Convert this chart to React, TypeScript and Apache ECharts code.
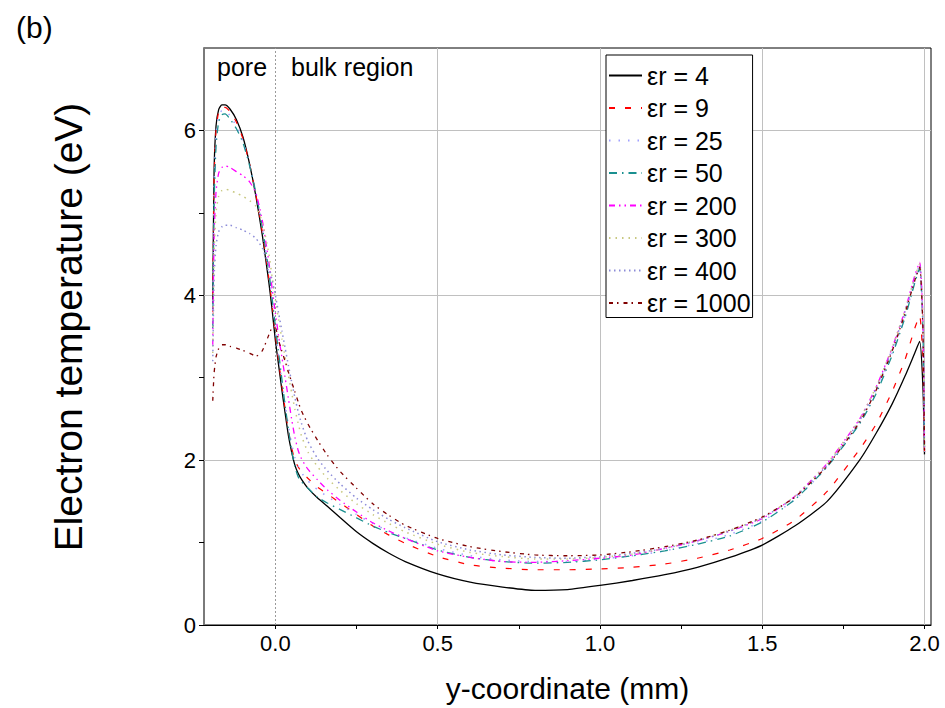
import React, { useEffect, useRef } from "react";
import * as echarts from "echarts";

const xValues = [
  -0.193, -0.189, -0.183, -0.175, -0.165, -0.155, -0.14, -0.12, -0.1, -0.08, -0.06, -0.04, -0.02, -0.01,
  0.0, 0.01, 0.02, 0.03, 0.04, 0.05, 0.06, 0.07, 0.08, 0.1, 0.13, 0.16, 0.2, 0.25, 0.3, 0.35, 0.4,
  0.5, 0.6, 0.7, 0.8, 0.9, 1.0, 1.1, 1.2, 1.3, 1.4, 1.5, 1.6, 1.7, 1.8, 1.85, 1.9, 1.94, 1.97, 1.985, 1.995, 2.0,
];

const seriesNames = ["εr = 4", "εr = 9", "εr = 25", "εr = 50", "εr = 200", "εr = 300", "εr = 400", "εr = 1000"];

const te4 = [
  3.9, 5.5, 6.05, 6.25, 6.31, 6.31, 6.26, 6.13, 5.92, 5.6, 5.2, 4.72, 4.15, 3.82,
  3.45, 3.15, 2.85, 2.57, 2.3, 2.1, 1.94, 1.84, 1.77, 1.66, 1.54, 1.44, 1.3, 1.13, 0.99, 0.87, 0.77,
  0.62, 0.52, 0.46, 0.42, 0.43, 0.48, 0.54, 0.61, 0.7, 0.82, 0.97, 1.2, 1.5, 2.0, 2.32, 2.68, 3.02, 3.3, 3.44, 2.9, 2.07,
];
const te9 = [
  3.8, 5.4, 6.0, 6.22, 6.28, 6.28, 6.23, 6.1, 5.9, 5.6, 5.22, 4.76, 4.2, 3.88,
  3.52, 3.2, 2.9, 2.62, 2.36, 2.15, 2.0, 1.92, 1.86, 1.78, 1.67, 1.59, 1.48, 1.34, 1.2, 1.09, 0.99,
  0.83, 0.73, 0.69, 0.67, 0.67, 0.68, 0.7, 0.74, 0.81, 0.91, 1.05, 1.27, 1.62, 2.13, 2.43, 2.83, 3.22, 3.6, 3.75, 3.2, 2.1,
];
const te25 = [
  3.7, 5.3, 5.95, 6.18, 6.24, 6.24, 6.18, 6.05, 5.87, 5.6, 5.24, 4.8, 4.25, 3.93,
  3.58, 3.26, 2.96, 2.68, 2.42, 2.2, 2.03, 1.93, 1.85, 1.75, 1.64, 1.56, 1.46, 1.34, 1.23, 1.14, 1.06,
  0.93, 0.84, 0.79, 0.77, 0.77, 0.8, 0.84, 0.9, 0.99, 1.1, 1.26, 1.52, 1.92, 2.45, 2.82, 3.3, 3.75, 4.17, 4.34, 3.6, 2.1,
];
const te50 = [
  3.6, 5.1, 5.8, 6.1, 6.19, 6.2, 6.14, 6.02, 5.85, 5.58, 5.24, 4.82, 4.28, 3.96,
  3.62, 3.3, 2.98, 2.66, 2.38, 2.12, 1.92, 1.8, 1.74, 1.66, 1.55, 1.48, 1.4, 1.3, 1.2, 1.12, 1.05,
  0.91, 0.82, 0.77, 0.75, 0.76, 0.79, 0.84, 0.9, 0.98, 1.08, 1.25, 1.52, 1.92, 2.44, 2.8, 3.27, 3.73, 4.15, 4.33, 3.6, 2.1,
];
const te200 = [
  3.4, 4.7, 5.25, 5.48, 5.55, 5.57, 5.55, 5.5, 5.45, 5.38, 5.24, 4.9, 4.4, 4.08,
  3.78, 3.5, 3.25, 3.0, 2.75, 2.5, 2.28, 2.12, 2.02, 1.89, 1.76, 1.64, 1.51, 1.37, 1.24, 1.14, 1.05,
  0.9, 0.82, 0.77, 0.76, 0.78, 0.81, 0.85, 0.93, 1.02, 1.14, 1.29, 1.56, 1.96, 2.5, 2.88, 3.36, 3.82, 4.24, 4.4, 3.7, 2.1,
];
const te300 = [
  3.3, 4.5, 5.0, 5.2, 5.27, 5.29, 5.27, 5.24, 5.2, 5.15, 5.08, 4.88, 4.5, 4.22,
  3.95, 3.7, 3.47, 3.25, 3.03, 2.82, 2.62, 2.45, 2.3, 2.1, 1.92, 1.78, 1.63, 1.47, 1.34, 1.23, 1.13,
  0.98, 0.88, 0.83, 0.8, 0.8, 0.82, 0.86, 0.93, 1.03, 1.15, 1.3, 1.56, 1.96, 2.5, 2.88, 3.36, 3.82, 4.22, 4.38, 3.7, 2.1,
];
const te400 = [
  3.2, 4.2, 4.6, 4.77, 4.83, 4.85, 4.85, 4.82, 4.79, 4.75, 4.69, 4.57, 4.35, 4.18,
  4.0, 3.78, 3.57, 3.36, 3.15, 2.95, 2.76, 2.59, 2.45, 2.23, 2.02, 1.87, 1.71, 1.54, 1.4, 1.28, 1.18,
  1.01, 0.91, 0.85, 0.82, 0.81, 0.83, 0.87, 0.93, 1.02, 1.14, 1.3, 1.55, 1.94, 2.48, 2.86, 3.34, 3.8, 4.2, 4.36, 3.7, 2.1,
];
const te1000 = [
  2.72, 3.05, 3.25, 3.35, 3.4, 3.4, 3.38, 3.36, 3.33, 3.3, 3.26, 3.33, 3.52, 3.6,
  3.6, 3.45, 3.32, 3.2, 3.07, 2.95, 2.83, 2.71, 2.6, 2.44, 2.24, 2.06, 1.86, 1.66, 1.47, 1.33, 1.21,
  1.05, 0.95, 0.89, 0.85, 0.84, 0.85, 0.89, 0.95, 1.03, 1.15, 1.31, 1.55, 1.93, 2.46, 2.84, 3.32, 3.78, 4.18, 4.34, 3.6, 2.1,
];

const xTickValues = [0, 0.25, 0.5, 0.75, 1, 1.25, 1.5, 1.75, 2];
const xLabelValues = [0, 0.5, 1, 1.5, 2];
const yTickValues = [0, 1, 2, 3, 4, 5, 6];
const yLabelValues = [0, 2, 4, 6];
const xGridValues = [0.5, 1, 1.5, 2];
const yGridValues = [2, 4, 6];

const FONT = "'Liberation Sans', Arial, Helvetica, sans-serif";

export default function App() {
  const ref = useRef<HTMLDivElement>(null);

  useEffect(() => {
    document.body.style.margin = "0";
    const chart = echarts.init(ref.current!, null, { renderer: "svg" });

    const allY = [te4, te9, te25, te50, te200, te300, te400, te1000];
    const colors = ["#000000", "#ff0000", "#a0a0ff", "#1a9090", "#ff00ff", "#c8c880", "#8c8cd8", "#800000"];
    const types: any[] = [
      "solid",
      [6, 10],
      [1.5, 8],
      [8, 5, 1.5, 5],
      [6, 4, 1.5, 4, 1.5, 4],
      [1.5, 5],
      [1.5, 3.5],
      [4, 4, 1.5, 5],
    ];
    const widths = [1.3, 1.2, 1.5, 1.3, 1.3, 1.5, 1.5, 1.3];

    const dataSeries = allY.map((ys, k) => ({
      name: seriesNames[k],
      type: "line",
      data: xValues.map((x, i) => [x, ys[i]]),
      showSymbol: false,
      symbol: "none",
      smooth: 0.2,
      z: 3,
      clip: true,
      lineStyle: { color: colors[k], type: types[k], width: widths[k] },
      itemStyle: { color: colors[k], opacity: 0 },
      emphasis: { disabled: true },
    }));

    const gridSeries = {
      name: "gridlines",
      type: "line",
      data: [],
      z: 1,
      silent: true,
      markLine: {
        silent: true,
        z: 1,
        symbol: ["none", "none"],
        label: { show: false },
        emphasis: { disabled: true },
        data: [
          { xAxis: 0, lineStyle: { color: "#9a9a9a", type: [2, 2], width: 1 } },
          ...xGridValues.map((v) => ({ xAxis: v, lineStyle: { color: "#c0c0c0", type: "solid", width: 1 } })),
          ...yGridValues.map((v) => ({ yAxis: v, lineStyle: { color: "#c0c0c0", type: "solid", width: 1 } })),
        ],
      },
    };

    const option: any = {
      animation: false,
      backgroundColor: "#ffffff",
      textStyle: { fontFamily: FONT },
      grid: {
        left: 204,
        top: 48,
        right: 14,
        bottom: 80,
        show: true,
        borderColor: "#000",
        borderWidth: 1,
        backgroundColor: "transparent",
      },
      xAxis: {
        type: "value",
        min: -0.22,
        max: 2.02,
        axisLine: { show: true, onZero: false, lineStyle: { color: "#000", width: 1 } },
        axisTick: { show: true, inside: false, length: 4, customValues: xTickValues, lineStyle: { color: "#000" } },
        axisLabel: {
          customValues: xLabelValues,
          formatter: (v: number) => v.toFixed(1),
          fontSize: 22,
          color: "#000",
          margin: 7,
          fontFamily: FONT,
        },
        splitLine: { show: false },
        name: "y-coordinate (mm)",
        nameLocation: "middle",
        nameGap: 48,
        nameTextStyle: { fontSize: 30, color: "#000", fontFamily: FONT },
      },
      yAxis: {
        type: "value",
        min: 0,
        max: 7,
        axisLine: { show: true, onZero: false, lineStyle: { color: "#7a7a7a", width: 2 } },
        axisTick: { show: true, inside: false, length: 5, customValues: yTickValues, lineStyle: { color: "#000" } },
        axisLabel: {
          customValues: yLabelValues,
          fontSize: 22,
          color: "#000",
          margin: 8,
          fontFamily: FONT,
        },
        splitLine: { show: false },
        name: "Electron temperature (eV)",
        nameLocation: "middle",
        nameRotate: 90,
        nameGap: 116,
        nameTextStyle: { fontSize: 39, color: "#000", fontFamily: FONT, padding: [0, 0, 0, 19] },
      },
      legend: {
        data: seriesNames,
        orient: "vertical",
        left: 606,
        top: 55,
        itemWidth: 33,
        itemHeight: 25,
        itemGap: 7.5,
        padding: [8, 2, 2, 2],
        borderColor: "#000",
        borderWidth: 1,
        backgroundColor: "#fff",
        selectedMode: false,
        z: 10,
        itemStyle: { opacity: 0 },
        textStyle: { fontSize: 25, color: "#000", fontFamily: FONT },
      },
      graphic: [
        { type: "text", left: 16, top: 12, style: { text: "(b)", fontSize: 30, fill: "#000", fontFamily: FONT } },
        { type: "text", x: 217, y: 67, style: { text: "pore", fontSize: 25, fill: "#000", fontFamily: FONT, verticalAlign: "middle" } },
        { type: "text", x: 291, y: 67, style: { text: "bulk region", fontSize: 25, fill: "#000", fontFamily: FONT, verticalAlign: "middle" } },
      ],
      series: [gridSeries, ...dataSeries],
    };

    chart.setOption(option);
    return () => chart.dispose();
  }, []);

  return <div ref={ref} style={{ width: 945, height: 708 }} />;
}
